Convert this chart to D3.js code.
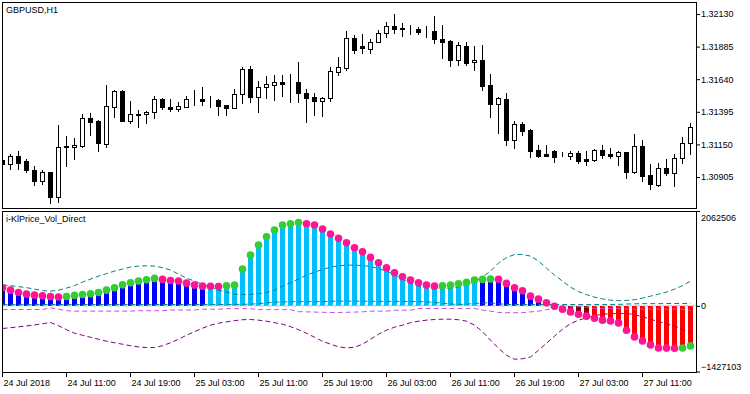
<!DOCTYPE html>
<meta charset="utf-8">
<script src="https://d3js.org/d3.v7.min.js"></script>
<style>
  body { margin: 0; background: #fff; }
  svg text { font-family: "Liberation Sans", Arial, sans-serif; font-size: 9px; fill: #000; }
</style>
<div id="chart"></div>
<script>

// GBPUSD H1 candles, 24 Jul 03:00 .. 27 Jul 17:00
var open  = [1.31033,1.31003,1.31063,1.31025,1.30957,1.30875,1.30942,1.30755,1.31130,1.31130,
             1.31138,1.31348,1.31326,1.31153,1.31431,1.31551,1.31326,1.31371,1.31378,1.31393,
             1.31491,1.31431,1.31416,1.31431,1.31491,1.31491,1.31483,1.31483,1.31446,1.31423,
             1.31529,1.31716,1.31506,1.31581,1.31596,1.31619,1.31619,1.31619,1.31536,1.31506,
             1.31476,1.31499,1.31694,1.31724,1.31949,1.31889,1.31867,1.31919,1.31987,1.32040,
             1.32025,1.32025,1.32017,1.32002,1.32002,1.31942,1.31927,1.31784,1.31889,1.31769,
             1.31784,1.31596,1.31453,1.31491,1.31183,1.31303,1.31258,1.31108,1.31078,1.31100,
             1.31070,1.31063,1.31085,1.31040,1.31033,1.31108,1.31078,1.31063,1.31093,1.30942,
             1.31138,1.30920,1.30845,1.30972,1.30935,1.31048,1.31160];
var high  = [1.31040,1.31078,1.31100,1.31040,1.30988,1.30957,1.30942,1.31296,1.31213,1.31198,
             1.31378,1.31386,1.31333,1.31596,1.31559,1.31559,1.31476,1.31408,1.31401,1.31514,
             1.31499,1.31491,1.31468,1.31514,1.31559,1.31581,1.31514,1.31491,1.31446,1.31566,
             1.31731,1.31739,1.31626,1.31664,1.31671,1.31671,1.31679,1.31769,1.31566,1.31536,
             1.31506,1.31731,1.31807,1.32002,1.31972,1.31979,1.31942,1.32010,1.32070,1.32130,
             1.32062,1.32047,1.32032,1.32040,1.32115,1.32047,1.31934,1.31919,1.31919,1.31889,
             1.31897,1.31679,1.31506,1.31536,1.31326,1.31318,1.31266,1.31145,1.31145,1.31108,
             1.31093,1.31100,1.31100,1.31100,1.31115,1.31145,1.31123,1.31100,1.31093,1.31228,
             1.31183,1.31003,1.31010,1.31040,1.31078,1.31205,1.31311];
var low   = [1.30995,1.30965,1.30965,1.30942,1.30845,1.30852,1.30709,1.30717,1.30988,1.31040,
             1.31130,1.31220,1.31100,1.31130,1.31356,1.31326,1.31311,1.31281,1.31311,1.31348,
             1.31416,1.31401,1.31401,1.31431,1.31446,1.31446,1.31431,1.31371,1.31371,1.31423,
             1.31461,1.31468,1.31393,1.31499,1.31483,1.31514,1.31468,1.31468,1.31318,1.31371,
             1.31363,1.31476,1.31671,1.31709,1.31837,1.31837,1.31837,1.31919,1.31957,1.31987,
             1.31964,1.31979,1.31979,1.31957,1.31912,1.31799,1.31739,1.31747,1.31747,1.31709,
             1.31559,1.31356,1.31236,1.31145,1.31123,1.31220,1.31055,1.31055,1.31063,1.31018,
             1.31063,1.31040,1.31010,1.30995,1.31025,1.31048,1.31048,1.30995,1.30897,1.30935,
             1.30875,1.30815,1.30837,1.30920,1.30837,1.31010,1.31078];
var close = [1.31003,1.31063,1.31010,1.30957,1.30875,1.30942,1.30755,1.31130,1.31138,1.31145,
             1.31348,1.31318,1.31160,1.31438,1.31551,1.31326,1.31378,1.31378,1.31393,1.31491,
             1.31431,1.31416,1.31438,1.31491,1.31491,1.31476,1.31483,1.31438,1.31423,1.31529,
             1.31716,1.31506,1.31581,1.31604,1.31619,1.31604,1.31619,1.31536,1.31499,1.31476,
             1.31499,1.31701,1.31731,1.31949,1.31859,1.31874,1.31919,1.31987,1.32040,1.32017,
             1.32017,1.32025,1.31995,1.32002,1.31942,1.31919,1.31784,1.31897,1.31762,1.31784,
             1.31589,1.31453,1.31499,1.31183,1.31303,1.31251,1.31100,1.31063,1.31063,1.31055,
             1.31070,1.31085,1.31025,1.31025,1.31108,1.31070,1.31063,1.31093,1.30942,1.31138,
             1.30912,1.30852,1.30972,1.30935,1.31048,1.31160,1.31281];

// i-KlPrice_Vol_Direct histogram and its colour buffer (0 blue, 1 sky, 2 maroon, 3 red)
var volDirect = [392000,342000,292000,255000,233000,218000,200000,192000,205000,227000,
                 248000,261000,292000,342000,392000,457000,501000,538000,566000,597000,
                 575000,553000,538000,494000,451000,429000,425000,420000,436000,451000,
                 799000,1104000,1322000,1503000,1649000,1758000,1786000,1810000,1786000,1758000,
                 1671000,1562000,1468000,1372000,1263000,1176000,1054000,937000,828000,719000,
                 632000,560000,501000,451000,429000,436000,451000,479000,510000,560000,
                 575000,582000,578000,488000,392000,327000,211000,146000,65000,-8000,
                 -72000,-131000,-181000,-224000,-268000,-311000,-327000,-370000,-529000,-675000,
                 -762000,-849000,-915000,-918000,-921000,-915000,-871000];
var volColor  = [0,0,0,0,0,0,0,0,0,0, 0,0,0,0,0,0,0,0,0,0, 0,0,0,0,0,0,1,1,1,1,
                 1,1,1,1,1,1,1,1,1,1, 1,1,1,1,1,1,1,1,1,1, 1,1,1,1,1,1,1,1,1,1,
                 0,0,0,0,0,0,0,0,0,2, 2,2,2,2,3,3,3,3,3,3, 3,3,3,3,3,3,3];

// level lines
var upperBand = [451000,440000,418000,396000,364000,331000,320000,342000,386000,440000,
                 516000,582000,647000,701000,756000,799000,843000,865000,871000,865000,
                 832000,778000,690000,603000,538000,473000,407000,342000,298000,255000,
                 244000,248000,266000,287000,342000,429000,505000,582000,669000,734000,
                 788000,843000,871000,886000,886000,876000,854000,810000,756000,680000,
                 582000,494000,429000,386000,375000,375000,379000,407000,451000,527000,
                 625000,756000,930000,1050000,1115000,1119000,1082000,974000,821000,669000,
                 538000,407000,309000,244000,189000,152000,124000,113000,118000,135000,
                 168000,211000,255000,298000,364000,440000,538000];
var upperZero = [32000,32000,31000,31000,30000,30000,30000,30000,29000,29000,
                 29000,28000,28000,28000,28000,28000,28000,28000,28000,28000,
                 29000,29000,29000,30000,30000,30000,30000,30000,30000,31000,
                 33000,38000,48000,65000,80000,85000,91000,91000,92000,92000,
                 92000,100000,102000,102000,102000,102000,100000,98000,98000,98000,
                 97000,96000,94000,87000,74000,59000,41000,30000,37000,52000,
                 65000,65000,48000,30000,29000,29000,28000,28000,28000,28000,
                 29000,29000,30000,30000,30000,31000,31000,32000,40000,44000,
                 48000,48000,48000,50000,52000,52000,52000];
var lowerZero = [-78000,-78000,-78000,-78000,-78000,-78000,-44000,-72000,-105000,-115000,
                 -115000,-115000,-115000,-115000,-115000,-115000,-115000,-105000,-105000,-105000,
                 -105000,-89000,-89000,-89000,-89000,-72000,-72000,-72000,-61000,-61000,
                 -61000,-61000,-83000,-83000,-83000,-83000,-83000,-126000,-130000,-135000,
                 -140000,-144000,-144000,-140000,-135000,-130000,-115000,-115000,-115000,-94000,
                 -94000,-94000,-57000,-57000,-57000,-57000,-57000,-57000,-57000,-57000,
                 -94000,-115000,-144000,-148000,-148000,-148000,-131000,-115000,-83000,-50000,
                 -28000,-22000,-17000,-28000,-57000,-57000,-57000,-57000,-72000,-72000,
                 -72000,-72000,-72000,-72000,-72000,-72000,-105000];
var lowerBand = [-492000,-475000,-457000,-436000,-416000,-388000,-362000,-431000,-518000,-595000,
                 -638000,-682000,-725000,-769000,-802000,-834000,-867000,-893000,-906000,-906000,
                 -867000,-802000,-725000,-638000,-562000,-486000,-420000,-377000,-348000,-322000,
                 -301000,-296000,-311000,-333000,-366000,-399000,-453000,-518000,-595000,-682000,
                 -769000,-834000,-889000,-915000,-900000,-834000,-725000,-616000,-529000,-464000,
                 -420000,-366000,-333000,-311000,-296000,-290000,-290000,-301000,-333000,-420000,
                 -562000,-747000,-921000,-1074000,-1161000,-1150000,-1111000,-965000,-812000,-660000,
                 -507000,-388000,-311000,-261000,-213000,-181000,-170000,-166000,-166000,-192000,
                 -235000,-290000,-344000,-388000,-442000,-507000,-573000];

// axes
var timeTickIndex = [0, 8, 16, 24, 32, 40, 48, 56, 64, 72, 80];
var timeTickLabels = ["24 Jul 2018", "24 Jul 11:00", "24 Jul 19:00", "25 Jul 03:00", "25 Jul 11:00",
                      "25 Jul 19:00", "26 Jul 03:00", "26 Jul 11:00", "26 Jul 19:00", "27 Jul 03:00", "27 Jul 11:00"];
var priceTicks = [1.32130, 1.31885, 1.31640, 1.31395, 1.31150, 1.30905];
var volTicks = [2062506, 0, -1427103];

var svg = d3.select("#chart").append("svg")
    .attr("width", 750)
    .attr("height", 394);
svg.append("rect").attr("width", 750).attr("height", 394).attr("fill", "#fff");

var x = d3.scaleLinear().domain([0, open.length - 1]).range([2, 690]);
var yPrice = d3.scaleLinear().domain([1.30905, 1.32130]).range([177, 14]);
var yVol = d3.scaleLinear().domain([-1427103, 2062506]).range([371.5, 211]);

var defs = svg.append("defs");
defs.append("clipPath").attr("id", "clipTop")
  .append("rect").attr("x", 3).attr("y", 3).attr("width", 693).attr("height", 205);
defs.append("clipPath").attr("id", "clipBot")
  .append("rect").attr("x", 3).attr("y", 212).attr("width", 693).attr("height", 160);

// ---- price pane
var candles = open.map(function(o, i) {
  return {i: i, o: o, h: high[i], l: low[i], c: close[i]};
});
var px = function(i) { return Math.round(x(i)); };

var gTop = svg.append("g").attr("clip-path", "url(#clipTop)");
gTop.selectAll("line.wick")
  .data(candles)
  .enter()
  .append("line")
    .attr("x1", function(d) { return px(d.i) + 0.5; })
    .attr("x2", function(d) { return px(d.i) + 0.5; })
    .attr("y1", function(d) { return Math.round(yPrice(d.h)); })
    .attr("y2", function(d) { return Math.round(yPrice(d.l)) + 1; })
    .attr("stroke", "#000");
gTop.selectAll("rect.body")
  .data(candles)
  .enter()
  .append("rect")
    .attr("x", function(d) { return px(d.i) - 1.5; })
    .attr("width", 4)
    .attr("y", function(d) { return Math.round(yPrice(Math.max(d.o, d.c))) + 0.5; })
    .attr("height", function(d) {
      return Math.round(yPrice(Math.min(d.o, d.c))) - Math.round(yPrice(Math.max(d.o, d.c)));
    })
    .attr("fill", function(d) { return d.c >= d.o ? "#fff" : "#000"; })
    .attr("stroke", "#000");

// ---- indicator pane
var barColors = ["#0000ff", "#00bfff", "#800000", "#ff0000"];
var y0 = yVol(0);
var gBot = svg.append("g").attr("clip-path", "url(#clipBot)");

gBot.selectAll("rect.bar")
  .data(volDirect)
  .enter()
  .append("rect")
    .attr("x", function(d, i) { return px(i) - 2; })
    .attr("width", 5)
    .attr("y", function(d) { return Math.min(yVol(d), y0); })
    .attr("height", function(d) { return Math.abs(yVol(d) - y0); })
    .attr("fill", function(d, i) { return barColors[volColor[i]]; });

gBot.append("line")
    .attr("x1", 3).attr("x2", 696)
    .attr("y1", y0).attr("y2", y0)
    .attr("stroke", "#c0c0c0")
    .attr("stroke-dasharray", "5,3");

var line = d3.line()
    .x(function(d, i) { return px(i) + 0.5; })
    .y(function(d) { return yVol(d); });

[[upperBand, "#008080"], [upperZero, "#008080"], [lowerZero, "#ba55d3"], [lowerBand, "#800080"]]
  .forEach(function(s) {
    gBot.append("path")
      .datum(s[0])
      .attr("d", line)
      .attr("fill", "none")
      .attr("stroke", s[1])
      .attr("stroke-width", 1)
      .attr("stroke-dasharray", "5,3");
  });

gBot.selectAll("circle.dot")
  .data(volDirect)
  .enter()
  .append("circle")
    .attr("cx", function(d, i) { return px(i) + 0.5; })
    .attr("cy", function(d) { return yVol(d); })
    .attr("r", 3.8)
    .attr("fill", function(d, i) {
      return (i > 0 && d > volDirect[i - 1]) ? "#32cd32" : "#ff1493";
    });

// ---- frames
svg.append("rect").attr("x", 2.5).attr("y", 2.5).attr("width", 694).attr("height", 206)
  .attr("fill", "none").attr("stroke", "#000");
svg.append("rect").attr("x", 2.5).attr("y", 211.5).attr("width", 694).attr("height", 161)
  .attr("fill", "none").attr("stroke", "#000");

// ---- axes
var axPrice = svg.append("g")
    .attr("transform", "translate(697,0)")
    .call(d3.axisRight(yPrice).tickValues(priceTicks).tickSize(3).tickPadding(1)
      .tickFormat(d3.format(".5f")));
axPrice.select(".domain").remove();

var axVol = svg.append("g")
    .attr("transform", "translate(697,0)")
    .call(d3.axisRight(yVol).tickValues(volTicks).tickSize(3).tickPadding(1)
      .tickFormat(d3.format("d")));
axVol.select(".domain").remove();
axVol.selectAll("text")
    .attr("dy", function(d) { return d > 0 ? "1em" : (d < 0 ? "-0.2em" : "0.32em"); });

var axTime = svg.append("g")
    .attr("transform", "translate(0,372)")
    .call(d3.axisBottom(x).tickValues(timeTickIndex).tickSize(5).tickPadding(3)
      .tickFormat(function(d, i) { return timeTickLabels[i]; }));
axTime.select(".domain").remove();
axTime.selectAll("text").attr("text-anchor", "start").attr("dx", 1);

svg.selectAll(".tick text")
    .attr("font-family", "Liberation Sans, Arial, sans-serif")
    .attr("font-size", 9);

// ---- pane titles
svg.append("text").attr("x", 6).attr("y", 13).text("GBPUSD,H1");
svg.append("text").attr("x", 6).attr("y", 222).text("i-KlPrice_Vol_Direct");

</script>
